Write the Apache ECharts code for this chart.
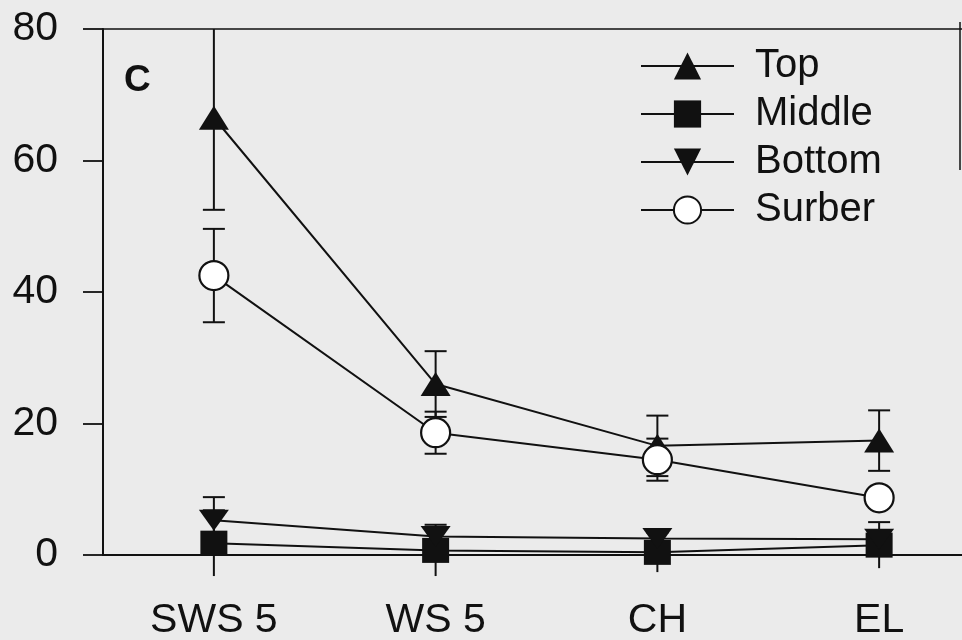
<!DOCTYPE html>
<html><head><meta charset="utf-8">
<script src="https://cdn.jsdelivr.net/npm/echarts@6/dist/echarts.min.js"></script>
<style>html,body{margin:0;padding:0;background:#ebebeb;}#c{width:962px;height:640px;}</style>
</head><body><div id="c"></div>
<script>
const categories = ['SWS 5', 'WS 5', 'CH', 'EL'];
const yTicks = [0, 20, 40, 60, 80];
const topVals = [66.5, 26.0, 16.6, 17.4];
const topErr = [14.0, 5.0, 4.6, 4.6];
const middleVals = [1.8, 0.7, 0.4, 1.5];
const middleErr = [5.0, 3.9, 3.0, 3.5];
const bottomVals = [5.3, 2.8, 2.5, 2.4];
const bottomErr = [3.5, 1.2, 1.0, 1.0];
const surberVals = [42.5, 18.6, 14.5, 8.7];
const surberErr = [7.1, 3.2, 3.2, 1.0];
const panelLabel = 'C';

const FONT = "'Liberation Sans', Arial, sans-serif";
const INK = '#111';
const yMin = yTicks[0], yMax = yTicks[yTicks.length - 1];

function errSeries(vals, errs) {
  return {
    type: 'custom',
    z: 1,
    clip: false,
    silent: true,
    data: vals.map((v, i) => [i, v, errs[i]]),
    renderItem: function (params, api) {
      const i = api.value(0), v = api.value(1), e = api.value(2);
      const hiV = v + e, loV = v - e;
      const top = api.coord([i, Math.min(hiV, yMax)]);
      const bot = api.coord([i, loV]);
      const half = 11;
      const children = [{
        type: 'line',
        shape: { x1: top[0], y1: top[1], x2: bot[0], y2: bot[1] },
        style: { stroke: INK, lineWidth: 2 }
      }];
      if (hiV <= yMax) children.push({
        type: 'line',
        shape: { x1: top[0] - half, y1: top[1], x2: top[0] + half, y2: top[1] },
        style: { stroke: INK, lineWidth: 2 }
      });
      if (loV >= yMin) children.push({
        type: 'line',
        shape: { x1: bot[0] - half, y1: bot[1], x2: bot[0] + half, y2: bot[1] },
        style: { stroke: INK, lineWidth: 2 }
      });
      return { type: 'group', children: children };
    }
  };
}

function lineSeries(name, vals, symbol, size, fill) {
  return {
    name: name,
    type: 'line',
    z: 3,
    data: vals,
    symbol: symbol,
    symbolSize: size,
    showAllSymbol: true,
    lineStyle: { color: INK, width: 2 },
    itemStyle: { color: fill, borderColor: INK, borderWidth: fill === '#fff' ? 2.2 : 0 },
    emphasis: { disabled: true },
    animation: false
  };
}

const chart = echarts.init(document.getElementById('c'), null, { renderer: 'canvas' });
chart.setOption({
  backgroundColor: '#ebebeb',
  animation: false,
  textStyle: { fontFamily: FONT },
  title: {
    text: panelLabel, left: 124, top: 62, padding: 0,
    textStyle: { fontSize: 37, fontWeight: 'bold', color: INK, fontFamily: FONT }
  },
  grid: { left: 103, width: 887, top: 29, bottom: 85, containLabel: false, outerBoundsMode: 'none' },
  legend: {
    orient: 'vertical', left: 640, top: 46, padding: 0,
    itemWidth: 93, itemHeight: 34, itemGap: 8,
    data: ['Top', 'Middle', 'Bottom', 'Surber'],
    textStyle: { fontSize: 40, color: INK, fontFamily: FONT, lineHeight: 40, padding: [0, 0, 0, 16] }
  },
  xAxis: [{
    type: 'category', data: categories, boundaryGap: true, position: 'bottom',
    axisLine: { show: true, lineStyle: { color: INK, width: 2 } },
    axisTick: { show: false },
    axisLabel: { fontSize: 41, color: INK, margin: 45, fontFamily: FONT, interval: 0 },
    splitLine: { show: false }
  }, {
    type: 'category', data: categories, boundaryGap: true, position: 'top',
    axisLine: { show: true, lineStyle: { color: INK, width: 1.5 } },
    axisTick: { show: false }, axisLabel: { show: false }, splitLine: { show: false }
  }],
  yAxis: {
    type: 'value', min: yMin, max: yMax, interval: 20,
    axisLine: { show: true, lineStyle: { color: INK, width: 2 } },
    axisTick: { show: true, inside: false, length: 20, lineStyle: { color: INK, width: 1.8 } },
    axisLabel: { fontSize: 41, color: INK, margin: 45, fontFamily: FONT },
    splitLine: { show: false }
  },
  graphic: [{
    type: 'line', shape: { x1: 960, y1: 22, x2: 960, y2: 170 },
    style: { stroke: INK, lineWidth: 1.5 }, silent: true
  }],
  series: [
    errSeries(topVals, topErr),
    errSeries(surberVals, surberErr),
    errSeries(bottomVals, bottomErr),
    errSeries(middleVals, middleErr),
    lineSeries('Top', topVals, 'triangle', [30, 24], INK),
    lineSeries('Middle', middleVals, 'rect', [27, 25], INK),
    lineSeries('Bottom', bottomVals, 'path://M0,0 L30,0 L15,21 Z', [30, 21], INK),
    lineSeries('Surber', surberVals, 'circle', 29, '#fff')
  ]
});
</script></body></html>
